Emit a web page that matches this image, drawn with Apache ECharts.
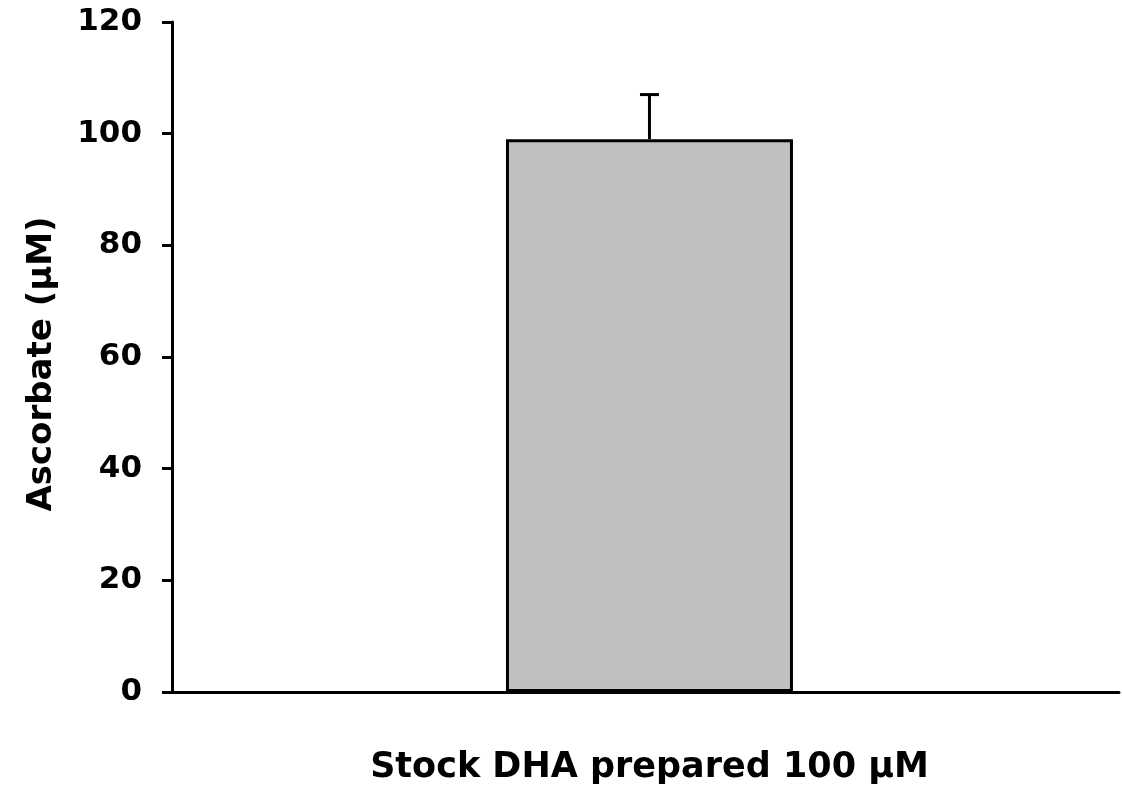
<!DOCTYPE html>
<html><head><meta charset="utf-8">
<script src="https://cdn.jsdelivr.net/npm/echarts@6/dist/echarts.min.js"></script>
<style>html,body{margin:0;padding:0;background:#fff}#c{width:1122px;height:794px}</style>
</head><body><div id="c"></div>
<script>
const categories = ["Stock DHA prepared 100 µM"];
const means = [99];
const errors = [8];
const yTicks = [0, 20, 40, 60, 80, 100, 120];

const chart = echarts.init(document.getElementById('c'), null, {renderer: 'canvas'});
const font = '"DejaVu Sans", sans-serif';
chart.setOption({
  animation: false,
  backgroundColor: '#fff',
  grid: {left: 172, right: 0, top: 22, height: 670, containLabel: false},
  xAxis: {
    type: 'value', min: -0.5, max: 0.4917, interval: 0.5,
    splitLine: {show: false},
    axisLine: {show: true, onZero: false, lineStyle: {color: '#000', width: 3}},
    axisTick: {show: false},
    axisLabel: {
      color: '#000', fontFamily: font, fontWeight: 'bold', fontSize: 35, margin: 58,
      formatter: v => (Math.abs(v) < 1e-9 ? categories[0] : '')
    }
  },
  yAxis: {
    type: 'value', min: yTicks[0], max: yTicks[yTicks.length - 1], interval: 20,
    name: 'Ascorbate (µM)', nameLocation: 'middle', nameRotate: 90, nameGap: 113,
    nameTextStyle: {color: '#000', fontFamily: font, fontWeight: 'bold', fontSize: 34, padding: [0, 14, 0, 0]},
    splitLine: {show: false},
    axisLine: {show: true, onZero: false, lineStyle: {color: '#000', width: 3}},
    axisTick: {show: true, length: 10, lineStyle: {color: '#000', width: 3}},
    axisLabel: {color: '#000', fontFamily: font, fontWeight: 'bold', fontSize: 31, margin: 30}
  },
  series: [
    {
      type: 'bar', data: means.map((m, i) => [i, m]), barWidth: 287,
      itemStyle: {color: '#C0C0C0', borderColor: '#000', borderWidth: 3}
    },
    {
      type: 'custom',
      data: means.map((m, i) => [i, m, m + errors[i]]),
      renderItem: function (params, api) {
        const base = api.coord([api.value(0), api.value(1)]);
        const top = api.coord([api.value(0), api.value(2)]);
        const half = 9.5;
        return {
          type: 'group',
          children: [
            {type: 'line', shape: {x1: top[0], y1: base[1], x2: top[0], y2: top[1]}, style: {stroke: '#000', lineWidth: 3}},
            {type: 'line', shape: {x1: top[0] - half, y1: top[1], x2: top[0] + half, y2: top[1]}, style: {stroke: '#000', lineWidth: 3}}
          ]
        };
      },
      z: 5
    }
  ]
});
</script></body></html>
